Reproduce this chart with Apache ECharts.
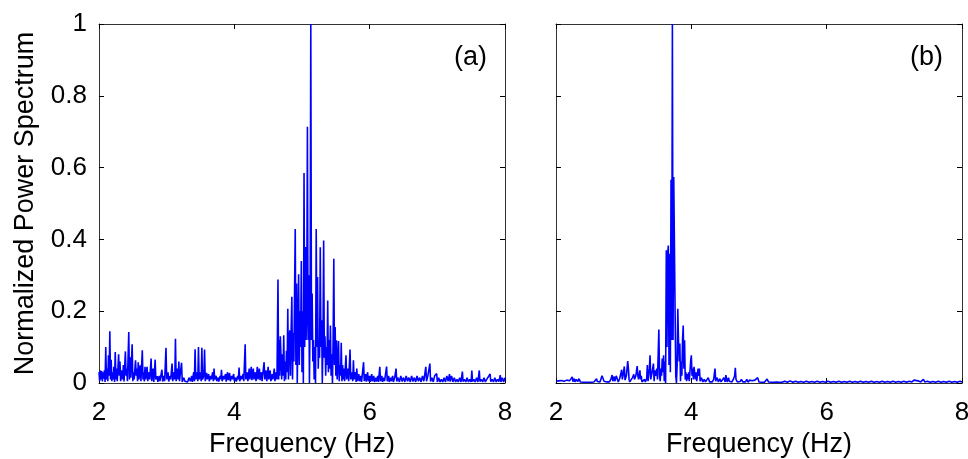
<!DOCTYPE html>
<html>
<head>
<meta charset="utf-8">
<script src="https://cdn.jsdelivr.net/npm/echarts@6/dist/echarts.min.js"></script>
<style>html,body{margin:0;padding:0;background:#fff;}#c{width:968px;height:459px;}</style>
</head>
<body>
<div id="c"></div>
<script>
// ---- data ----
var xTicks = [2, 4, 6, 8];
var yTicks = [0, 0.2, 0.4, 0.6, 0.8, 1];
var panelLabels = ['(a)', '(b)'];
var xName = 'Frequency (Hz)';
var yName = 'Normalized Power Spectrum';

// panel (a): [frequency Hz, normalized power]
var specA = [
[2.00,0.03],[2.01,0.005],[2.02,0.035],[2.03,0.01],[2.04,0.033],[2.05,0.004],[2.06,0.03],[2.07,0.012],[2.08,0.035],[2.09,0.003],
[2.10,0.10],[2.11,0.01],[2.12,0.04],[2.13,0.005],[2.14,0.077],[2.15,0.02],[2.16,0.144],[2.17,0.01],[2.18,0.065],[2.19,0.005],
[2.20,0.03],[2.21,0.01],[2.22,0.045],[2.23,0.003],[2.24,0.086],[2.25,0.01],[2.26,0.04],[2.27,0.005],[2.29,0.08],[2.30,0.02],
[2.31,0.06],[2.32,0.005],[2.34,0.035],[2.35,0.01],[2.36,0.05],[2.37,0.004],[2.39,0.088],[2.40,0.02],[2.41,0.04],[2.42,0.005],
[2.44,0.142],[2.45,0.01],[2.46,0.072],[2.47,0.015],[2.49,0.108],[2.50,0.005],[2.51,0.03],[2.52,0.01],[2.54,0.063],[2.55,0.02],
[2.56,0.04],[2.57,0.005],[2.58,0.058],[2.59,0.01],[2.61,0.049],[2.62,0.005],[2.64,0.091],[2.65,0.01],[2.66,0.03],[2.67,0.004],
[2.68,0.045],[2.69,0.01],[2.71,0.045],[2.72,0.005],[2.74,0.03],[2.75,0.01],[2.77,0.068],[2.78,0.005],[2.80,0.04],[2.81,0.003],
[2.83,0.065],[2.84,0.01],[2.86,0.019],[2.87,0.003],[2.89,0.02],[2.90,0.005],[2.93,0.037],[2.94,0.004],[2.96,0.02],[2.97,0.005],
[2.99,0.098],[3.00,0.01],[3.02,0.03],[3.03,0.004],[3.05,0.02],[3.06,0.01],[3.08,0.054],[3.09,0.005],[3.11,0.03],[3.12,0.01],
[3.13,0.123],[3.14,0.005],[3.16,0.04],[3.17,0.01],[3.18,0.06],[3.19,0.005],[3.21,0.04],[3.22,0.056],[3.23,0.003],[3.25,0.015],
[3.27,0.005],[3.29,0.01],[3.31,0.003],[3.33,0.015],[3.35,0.005],[3.37,0.02],[3.38,0.003],[3.40,0.03],[3.41,0.005],[3.42,0.094],
[3.43,0.01],[3.45,0.03],[3.46,0.005],[3.47,0.10],[3.48,0.01],[3.50,0.03],[3.51,0.005],[3.52,0.098],[3.53,0.01],[3.55,0.02],
[3.56,0.093],[3.57,0.005],[3.59,0.028],[3.60,0.01],[3.62,0.025],[3.63,0.005],[3.65,0.02],[3.66,0.01],[3.68,0.03],[3.69,0.005],
[3.70,0.04],[3.71,0.01],[3.73,0.02],[3.74,0.005],[3.76,0.015],[3.77,0.004],[3.79,0.02],[3.80,0.01],[3.81,0.037],[3.82,0.005],
[3.84,0.02],[3.85,0.01],[3.87,0.025],[3.88,0.004],[3.90,0.03],[3.91,0.008],[3.93,0.028],[3.94,0.005],[3.96,0.02],[3.97,0.01],
[3.99,0.025],[4.00,0.005],[4.02,0.015],[4.03,0.004],[4.05,0.02],[4.06,0.01],[4.07,0.043],[4.08,0.005],[4.10,0.02],[4.11,0.01],
[4.13,0.025],[4.14,0.005],[4.16,0.108],[4.17,0.01],[4.19,0.03],[4.20,0.005],[4.22,0.04],[4.23,0.01],[4.25,0.045],[4.26,0.008],
[4.28,0.04],[4.29,0.01],[4.31,0.03],[4.32,0.005],[4.34,0.045],[4.35,0.01],[4.37,0.04],[4.38,0.008],[4.40,0.03],[4.41,0.005],
[4.44,0.058],[4.45,0.01],[4.47,0.035],[4.48,0.005],[4.50,0.045],[4.51,0.01],[4.53,0.035],[4.54,0.005],[4.56,0.025],[4.57,0.01],
[4.59,0.04],[4.60,0.005],[4.62,0.03],[4.63,0.01],[4.64,0.193],[4.645,0.288],[4.655,0.01],[4.66,0.12],[4.67,0.02],[4.68,0.13],
[4.69,0.133],[4.70,0.01],[4.71,0.08],[4.72,0.02],[4.73,0.133],[4.74,0.005],[4.75,0.06],[4.76,0.01],[4.77,0.09],[4.78,0.03],
[4.79,0.207],[4.80,0.01],[4.81,0.12],[4.82,0.147],[4.83,0.02],[4.84,0.15],[4.85,0.24],[4.86,0.01],[4.87,0.14],[4.88,0.06],
[4.89,0.25],[4.90,0.429],[4.91,0.05],[4.92,0.277],[4.93,0.0],[4.94,0.15],[4.95,0.303],[4.96,0.05],[4.97,0.2],[4.98,0.1],
[4.99,0.34],[5.00,0.03],[5.01,0.2],[5.02,0.0],[5.03,0.585],[5.04,0.1],[5.05,0.379],[5.06,0.12],[5.07,0.2],[5.08,0.714],
[5.09,0.12],[5.10,0.3],[5.11,0.0],[5.12,0.2],[5.13,1.0],[5.14,0.12],[5.15,0.249],[5.16,0.06],[5.17,0.12],[5.18,0.01],
[5.19,0.1],[5.20,0.0],[5.21,0.429],[5.22,0.1],[5.23,0.295],[5.24,0.04],[5.25,0.12],[5.26,0.07],[5.27,0.378],[5.28,0.1],
[5.29,0.175],[5.30,0.0],[5.31,0.12],[5.32,0.397],[5.33,0.07],[5.34,0.13],[5.35,0.02],[5.36,0.1],[5.37,0.05],[5.38,0.23],
[5.39,0.03],[5.40,0.12],[5.41,0.04],[5.42,0.16],[5.43,0.02],[5.44,0.08],[5.45,0.0],[5.46,0.12],[5.47,0.346],[5.48,0.05],
[5.49,0.156],[5.50,0.02],[5.51,0.119],[5.52,0.01],[5.53,0.06],[5.54,0.117],[5.55,0.005],[5.56,0.05],[5.57,0.02],[5.58,0.112],
[5.59,0.005],[5.60,0.05],[5.61,0.01],[5.62,0.04],[5.63,0.005],[5.65,0.077],[5.66,0.01],[5.68,0.04],[5.69,0.005],[5.71,0.093],
[5.72,0.01],[5.74,0.03],[5.75,0.005],[5.76,0.063],[5.77,0.01],[5.79,0.03],[5.80,0.003],[5.81,0.04],[5.82,0.005],[5.84,0.025],
[5.85,0.005],[5.87,0.02],[5.88,0.003],[5.91,0.058],[5.92,0.005],[5.94,0.025],[5.95,0.004],[5.97,0.03],[5.98,0.005],[6.00,0.02],
[6.01,0.003],[6.03,0.025],[6.04,0.005],[6.06,0.02],[6.07,0.003],[6.09,0.015],[6.10,0.004],[6.12,0.02],[6.13,0.003],[6.15,0.045],
[6.16,0.005],[6.18,0.02],[6.19,0.003],[6.21,0.015],[6.22,0.005],[6.25,0.046],[6.26,0.005],[6.28,0.02],[6.29,0.003],[6.31,0.015],
[6.32,0.005],[6.34,0.02],[6.35,0.003],[6.37,0.015],[6.39,0.04],[6.40,0.004],[6.42,0.015],[6.44,0.003],[6.46,0.02],[6.48,0.004],
[6.50,0.015],[6.52,0.003],[6.54,0.02],[6.56,0.005],[6.58,0.015],[6.60,0.003],[6.62,0.02],[6.64,0.004],[6.66,0.015],[6.68,0.003],
[6.70,0.02],[6.72,0.005],[6.74,0.015],[6.76,0.003],[6.78,0.02],[6.80,0.005],[6.83,0.045],[6.84,0.005],[6.86,0.02],[6.89,0.054],
[6.90,0.004],[6.92,0.015],[6.94,0.003],[6.96,0.02],[6.99,0.026],[7.00,0.003],[7.02,0.015],[7.04,0.003],[7.06,0.01],[7.08,0.003],
[7.10,0.015],[7.12,0.003],[7.14,0.02],[7.16,0.005],[7.18,0.025],[7.19,0.004],[7.21,0.02],[7.23,0.003],[7.25,0.015],[7.27,0.003],
[7.29,0.01],[7.31,0.003],[7.33,0.015],[7.35,0.003],[7.37,0.032],[7.38,0.004],[7.40,0.01],[7.42,0.003],[7.44,0.015],[7.46,0.003],
[7.48,0.01],[7.50,0.003],[7.51,0.035],[7.52,0.004],[7.54,0.01],[7.56,0.003],[7.58,0.015],[7.60,0.003],[7.62,0.035],[7.63,0.004],
[7.65,0.01],[7.67,0.003],[7.69,0.015],[7.71,0.003],[7.73,0.01],[7.75,0.005],[7.78,0.025],[7.79,0.004],[7.81,0.01],[7.83,0.003],
[7.85,0.015],[7.87,0.003],[7.89,0.01],[7.91,0.004],[7.93,0.022],[7.94,0.003],[7.96,0.015],[7.98,0.003],[8.00,0.015]
];

// panel (b): [frequency Hz, normalized power]
var specB = [
[2.00,0.005],[2.02,0.002],[2.04,0.006],[2.06,0.003],[2.08,0.007],[2.10,0.002],[2.12,0.005],[2.14,0.003],[2.16,0.008],[2.18,0.003],
[2.20,0.006],[2.22,0.01],[2.24,0.017],[2.25,0.004],[2.27,0.012],[2.28,0.003],[2.30,0.01],[2.32,0.004],[2.34,0.012],[2.35,0.015],
[2.36,0.003],[2.38,0.005],[2.40,0.002],[2.42,0.004],[2.44,0.002],[2.46,0.005],[2.48,0.002],[2.50,0.004],[2.52,0.002],[2.54,0.005],
[2.56,0.003],[2.58,0.008],[2.60,0.012],[2.61,0.004],[2.63,0.006],[2.65,0.003],[2.67,0.008],[2.68,0.02],[2.69,0.024],[2.70,0.022],
[2.71,0.005],[2.73,0.01],[2.75,0.003],[2.77,0.005],[2.79,0.003],[2.81,0.01],[2.83,0.022],[2.84,0.005],[2.86,0.018],[2.87,0.005],
[2.89,0.02],[2.91,0.022],[2.92,0.003],[2.94,0.012],[2.96,0.028],[2.97,0.037],[2.98,0.01],[2.99,0.02],[3.01,0.046],[3.02,0.008],
[3.04,0.02],[3.06,0.061],[3.07,0.04],[3.08,0.01],[3.09,0.003],[3.11,0.008],[3.13,0.015],[3.15,0.024],[3.16,0.01],[3.18,0.02],
[3.20,0.047],[3.21,0.02],[3.22,0.01],[3.24,0.035],[3.25,0.01],[3.26,0.02],[3.27,0.003],[3.29,0.005],[3.31,0.01],[3.32,0.003],
[3.34,0.012],[3.35,0.05],[3.36,0.005],[3.38,0.04],[3.39,0.077],[3.40,0.01],[3.42,0.03],[3.44,0.054],[3.45,0.005],[3.46,0.035],
[3.47,0.02],[3.49,0.04],[3.50,0.01],[3.52,0.149],[3.53,0.02],[3.54,0.005],[3.55,0.04],[3.56,0.02],[3.57,0.068],[3.58,0.03],
[3.59,0.077],[3.60,0.005],[3.61,0.06],[3.62,0.0],[3.63,0.37],[3.64,0.1],[3.65,0.36],[3.66,0.383],[3.67,0.05],[3.68,0.36],
[3.69,0.03],[3.70,0.566],[3.71,0.12],[3.72,1.0],[3.73,0.12],[3.74,0.574],[3.75,0.574],[3.76,0.2],[3.77,0.02],[3.78,0.0],
[3.79,0.05],[3.80,0.207],[3.81,0.12],[3.82,0.06],[3.83,0.11],[3.84,0.005],[3.85,0.06],[3.86,0.02],[3.87,0.12],[3.88,0.16],
[3.89,0.04],[3.90,0.119],[3.91,0.01],[3.92,0.03],[3.93,0.005],[3.94,0.025],[3.95,0.01],[3.96,0.03],[3.97,0.005],[3.99,0.06],
[4.00,0.077],[4.01,0.02],[4.02,0.04],[4.03,0.01],[4.04,0.045],[4.05,0.045],[4.06,0.01],[4.07,0.03],[4.08,0.005],[4.10,0.04],
[4.11,0.02],[4.12,0.04],[4.13,0.005],[4.15,0.015],[4.17,0.003],[4.19,0.01],[4.21,0.003],[4.23,0.005],[4.25,0.015],[4.27,0.003],
[4.29,0.008],[4.31,0.003],[4.33,0.01],[4.35,0.04],[4.36,0.005],[4.38,0.015],[4.40,0.003],[4.42,0.012],[4.44,0.003],[4.46,0.008],
[4.48,0.015],[4.50,0.003],[4.51,0.022],[4.52,0.018],[4.53,0.003],[4.55,0.015],[4.56,0.005],[4.58,0.008],[4.60,0.003],[4.62,0.01],
[4.64,0.02],[4.65,0.042],[4.66,0.01],[4.68,0.003],[4.70,0.008],[4.72,0.004],[4.74,0.01],[4.76,0.003],[4.78,0.008],[4.80,0.003],
[4.82,0.01],[4.84,0.002],[4.86,0.008],[4.88,0.003],[4.90,0.006],[4.92,0.003],[4.94,0.008],[4.96,0.01],[4.98,0.015],[5.00,0.003],
[5.02,0.006],[5.04,0.002],[5.06,0.005],[5.08,0.002],[5.10,0.006],[5.12,0.011],[5.14,0.003],[5.16,0.005],[5.18,0.002],[5.20,0.004],
[5.22,0.002],[5.24,0.007],[5.26,0.003],[5.28,0.006],[5.30,0.002],[5.32,0.005],[5.34,0.002],[5.38,0.005],[5.42,0.002],[5.46,0.006],
[5.50,0.002],[5.54,0.005],[5.58,0.002],[5.62,0.004],[5.66,0.002],[5.70,0.005],[5.74,0.002],[5.78,0.004],[5.82,0.002],[5.86,0.005],
[5.90,0.002],[5.94,0.004],[5.96,0.009],[5.98,0.002],[6.02,0.005],[6.06,0.002],[6.10,0.004],[6.14,0.002],[6.18,0.005],[6.22,0.002],
[6.26,0.004],[6.30,0.002],[6.34,0.005],[6.38,0.002],[6.42,0.004],[6.46,0.002],[6.50,0.005],[6.54,0.002],[6.58,0.004],[6.62,0.002],
[6.66,0.005],[6.70,0.002],[6.74,0.004],[6.78,0.002],[6.82,0.005],[6.86,0.002],[6.90,0.004],[6.94,0.002],[6.98,0.005],[7.02,0.002],
[7.06,0.004],[7.10,0.002],[7.14,0.005],[7.18,0.002],[7.22,0.005],[7.26,0.003],[7.29,0.008],[7.31,0.003],[7.35,0.006],[7.39,0.003],
[7.43,0.01],[7.45,0.003],[7.49,0.005],[7.53,0.002],[7.57,0.004],[7.61,0.002],[7.65,0.005],[7.69,0.002],[7.73,0.004],[7.77,0.002],
[7.81,0.005],[7.85,0.002],[7.89,0.004],[7.93,0.002],[7.97,0.005],[8.00,0.003]
];

// ---- chart ----
var FONT = '"Liberation Sans", Arial, Helvetica, sans-serif';
var AXC = '#333';
var chart = echarts.init(document.getElementById('c'), null, {renderer: 'canvas'});

var grids = [
  {left: 99, top: 24, width: 406, height: 359, containLabel: false, outerBoundsMode: 'none'},
  {left: 556, top: 24, width: 406, height: 359, containLabel: false, outerBoundsMode: 'none'}
];

function xAxisFor(gi, pos, labels) {
  return {
    type: 'value', gridIndex: gi, position: pos,
    min: xTicks[0], max: xTicks[xTicks.length - 1], interval: xTicks[1] - xTicks[0],
    name: labels ? xName : '', nameLocation: 'middle', nameGap: 48,
    nameTextStyle: {fontFamily: FONT, fontSize: 27, color: '#000'},
    axisLine: {show: true, onZero: false, lineStyle: {color: AXC, width: 1}},
    axisTick: {show: true, inside: true, length: 5, lineStyle: {color: '#000', width: 1}},
    axisLabel: {show: labels, margin: 17, fontFamily: FONT, fontSize: 26, color: '#000'},
    splitLine: {show: false}
  };
}
function yAxisFor(gi, pos, labels, named) {
  return {
    type: 'value', gridIndex: gi, position: pos,
    min: yTicks[0], max: yTicks[yTicks.length - 1], interval: yTicks[1] - yTicks[0],
    name: named ? yName : '', nameLocation: 'middle', nameGap: 60,
    nameTextStyle: {fontFamily: FONT, fontSize: 27, color: '#000'},
    axisLine: {show: true, onZero: false, lineStyle: {color: AXC, width: 1}},
    axisTick: {show: true, inside: true, length: 5, lineStyle: {color: '#000', width: 1}},
    axisLabel: {show: labels, margin: 12, fontFamily: FONT, fontSize: 26, color: '#000'},
    splitLine: {show: false}
  };
}

var option = {
  animation: false,
  backgroundColor: '#fff',
  grid: grids,
  xAxis: [xAxisFor(0, 'bottom', true), xAxisFor(0, 'top', false), xAxisFor(1, 'bottom', true), xAxisFor(1, 'top', false)],
  yAxis: [yAxisFor(0, 'left', true, true), yAxisFor(0, 'right', false, false), yAxisFor(1, 'left', false, false), yAxisFor(1, 'right', false, false)],
  series: [
    {type: 'line', xAxisIndex: 0, yAxisIndex: 0, data: specA, showSymbol: false, symbol: 'none',
     lineStyle: {color: '#0000ff', width: 1.6}, z: 1},
    {type: 'line', xAxisIndex: 2, yAxisIndex: 2, data: specB, showSymbol: false, symbol: 'none',
     lineStyle: {color: '#0000ff', width: 1.6}, z: 1}
  ],
  graphic: [
    {type: 'text', left: 454, top: 44, style: {text: panelLabels[0], font: '27px ' + FONT, fill: '#000'}},
    {type: 'text', left: 910, top: 44, style: {text: panelLabels[1], font: '27px ' + FONT, fill: '#000'}}
  ]
};
chart.setOption(option);
</script>
</body>
</html>
